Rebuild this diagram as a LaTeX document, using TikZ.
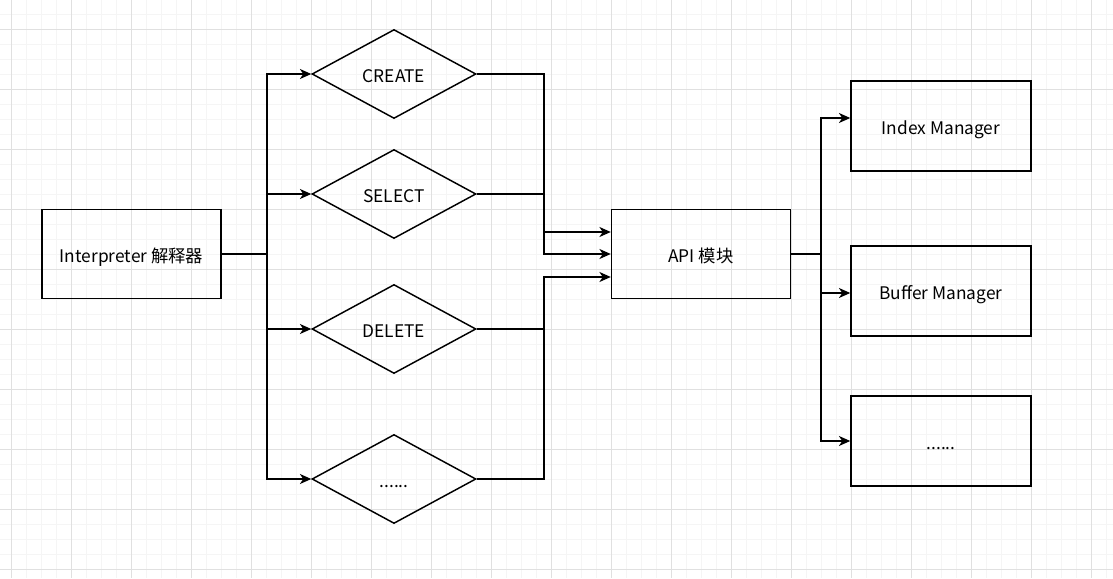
\documentclass[tikz,border=0pt]{standalone}
\usepackage{fontspec}
\setmainfont{Noto Sans CJK SC}
\usetikzlibrary{shapes.geometric,arrows.meta,calc}

\tikzset{
  box/.style={draw,line width=1.1pt,rectangle,minimum width=135pt,minimum height=67.5pt,inner sep=0pt,text height=12pt,text depth=0pt},
  choice/.style={draw,line width=1.1pt,diamond,aspect=1.84,minimum width=123pt,minimum height=66.75pt,inner sep=0pt,text height=12pt,text depth=0pt},
  wire/.style={line width=1.1pt},
  link/.style={wire,-{Stealth[length=8.5pt,width=7.5pt,inset=2.5pt]}},
  minorline/.style={line width=0.6pt,black!4},
  majorline/.style={line width=0.6pt,black!12}
}

\begin{document}
\begin{tikzpicture}[x=0.75pt,y=-0.75pt,font=\fontsize{13}{15}\selectfont]
 \useasboundingbox (0,0) rectangle (1113,578);
 \fill[white] (0,0) rectangle (1113,578);
 % grid
 \foreach \x in {11,26,...,1113} \draw[minorline] (\x,0) -- (\x,578);
 \foreach \y in {14,29,...,578} \draw[minorline] (0,\y) -- (1113,\y);
 \foreach \x in {11,71,...,1113} \draw[majorline] (\x,0) -- (\x,578);
 \foreach \y in {29,89,...,578} \draw[majorline] (0,\y) -- (1113,\y);

 \node[box,minimum width=134.25pt,minimum height=66.75pt] (interp) at (131.5,254) {Interpreter 解释器};
 \node[choice] (create) at (394,74) {CREATE};
 \node[choice] (select) at (394,194) {SELECT};
 \node[choice] (delete) at (394,329) {DELETE};
 \node[choice] (more)   at (394,479) {......};
 \node[box,minimum width=134.25pt,minimum height=66.75pt] (api) at (701,254) {API 模块};
 \node[box] (index)  at (941,126) {Index Manager};
 \node[box] (buffer) at (941,291) {Buffer Manager};
 \node[box] (others) at (941,441) {......};

 \coordinate (fork) at (267,254);
 \coordinate (join) at (544,254);
 \coordinate (out)  at (821,254);

 % interpreter to statements
 \draw[wire] (interp.east) -- (fork);
 \draw[link] (fork) |- (create.west);
 \draw[link] (fork) |- (select.west);
 \draw[link] (fork) |- (delete.west);
 \draw[link] (fork) |- (more.west);

 % statements to api
 \draw[link] (create.east) -| ($(join)+(0,-22)$) -- ($(api.west)+(0,-22)$);
 \draw[link] (select.east) -| (join) -- (api.west);
 \draw[link] (delete.east) -| ($(join)+(0,23)$) -- ($(api.west)+(0,23)$);
 \draw[wire] (more.east) -| ($(join)+(0,23)$);

 % api to managers
 \draw[wire] (api.east) -- (out);
 \draw[link] (out) |- ($(index.west)+(0,-8)$);
 \draw[link] (out) |- ($(buffer.west)+(0,2)$);
 \draw[link] (out) |- (others.west);
\end{tikzpicture}
\end{document}
